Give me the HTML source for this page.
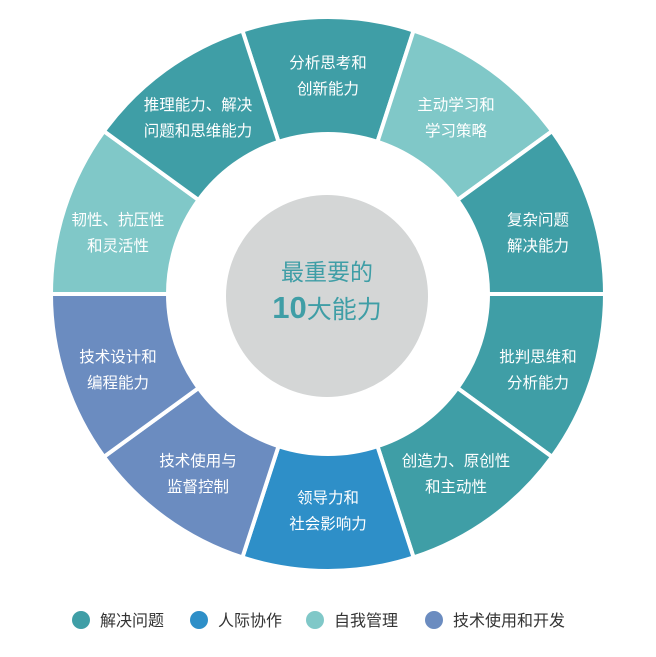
<!DOCTYPE html>
<html><head><meta charset="utf-8"><style>
html,body{margin:0;padding:0;background:#fff;}
body{width:656px;height:652px;overflow:hidden;font-family:"Liberation Sans","Noto Sans CJK SC",sans-serif;}
</style></head><body>
<svg id="s" width="656" height="652" viewBox="0 0 656 652" xmlns="http://www.w3.org/2000/svg" font-family="Liberation Sans, Noto Sans CJK SC, sans-serif">
<g id="segs"></g>
<circle cx="327" cy="296" r="101" fill="#d4d6d6"/>
<text x="327" y="280" text-anchor="middle" font-size="23" fill="#3f9ea6">最重要的</text>
<text x="327" y="318" text-anchor="middle" font-size="25" fill="#3f9ea6"><tspan font-size="31" font-weight="bold">10</tspan>大能力</text>
<g font-size="15.5" fill="#fff" text-anchor="middle">
<text x="328" y="68">分析思考和</text><text x="328" y="94">创新能力</text>
<text x="456" y="110">主动学习和</text><text x="456" y="136">学习策略</text>
<text x="538" y="225">复杂问题</text><text x="538" y="251">解决能力</text>
<text x="538" y="362">批判思维和</text><text x="538" y="388">分析能力</text>
<text x="456" y="466">创造力、原创性</text><text x="456" y="492">和主动性</text>
<text x="328" y="503">领导力和</text><text x="328" y="529">社会影响力</text>
<text x="198" y="466">技术使用与</text><text x="198" y="492">监督控制</text>
<text x="118" y="362">技术设计和</text><text x="118" y="388">编程能力</text>
<text x="118" y="225">韧性、抗压性</text><text x="118" y="251">和灵活性</text>
<text x="198" y="110">推理能力、解决</text><text x="198" y="136">问题和思维能力</text>
</g>
<g font-size="16" fill="#333">
<circle cx="81" cy="620" r="9" fill="#3f9ea6"/><text x="100" y="626">解决问题</text>
<circle cx="199" cy="620" r="9" fill="#2e8fc8"/><text x="218" y="626">人际协作</text>
<circle cx="315" cy="620" r="9" fill="#80c8c8"/><text x="334" y="626">自我管理</text>
<circle cx="434" cy="620" r="9" fill="#6b8cc0"/><text x="453" y="626">技术使用和开发</text>
</g>
</svg>
<script>
var cols=["#3f9ea6","#80c8c8","#3f9ea6","#3f9ea6","#3f9ea6","#2e8fc8","#6b8cc0","#6b8cc0","#80c8c8","#3f9ea6"];
var cx=328,cy=294,R=277,r=160,g=document.getElementById("segs"),h="";
function p(a,rad){return (cx+rad*Math.cos(a)).toFixed(2)+","+(cy+rad*Math.sin(a)).toFixed(2);}
for(var i=0;i<10;i++){
 var a0=(-108+36*i)*Math.PI/180,a1=a0+36*Math.PI/180;
 h+='<path d="M'+p(a0,r)+' L'+p(a0,R)+' A'+R+','+R+' 0 0 1 '+p(a1,R)+' L'+p(a1,r)+' A'+r+','+r+' 0 0 0 '+p(a0,r)+' Z" fill="'+cols[i]+'" stroke="#fff" stroke-width="4"/>';
}
g.innerHTML=h;
</script>
</body></html>
